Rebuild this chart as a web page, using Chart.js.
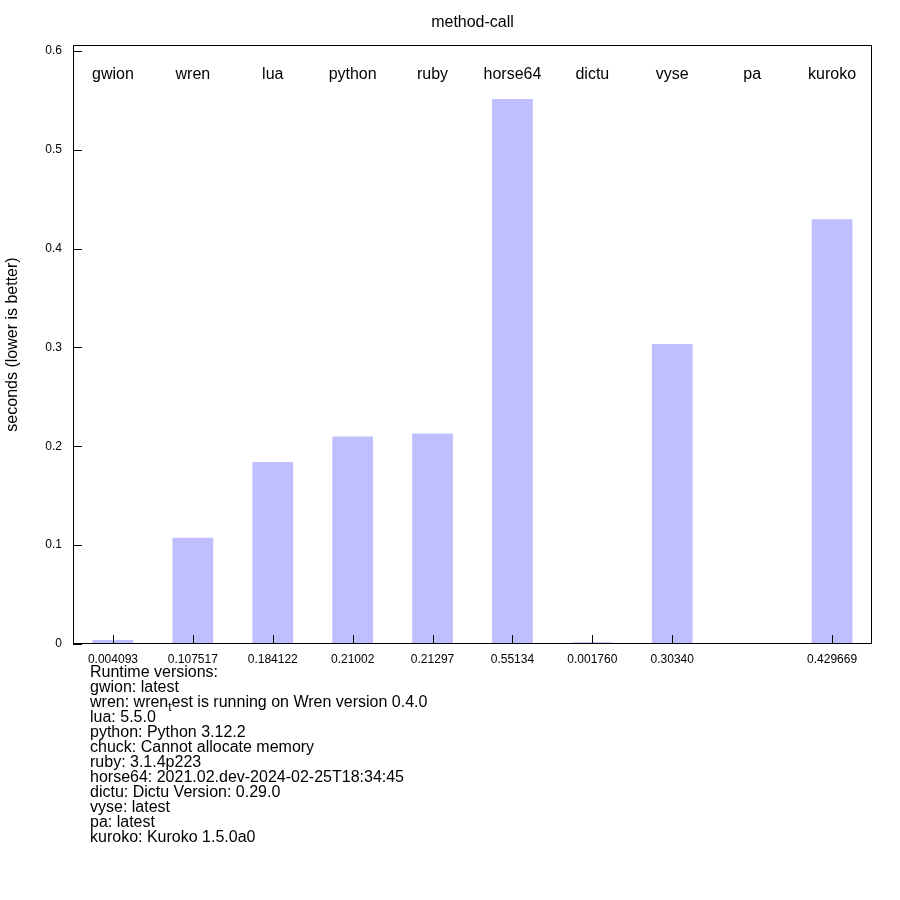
<!DOCTYPE html>
<html>
<head>
<meta charset="utf-8">
<script src="https://cdn.jsdelivr.net/npm/chart.js@4/dist/chart.umd.min.js"></script>
<style>
  html, body { margin: 0; padding: 0; background: #fff; }
  #wrap { width: 900px; height: 900px; }
</style>
</head>
<body>
<div id="wrap"><canvas id="c" width="900" height="900"></canvas></div>
<script>
// ---- data ----
const categories = ["gwion", "wren", "lua", "python", "ruby", "horse64", "dictu", "vyse", "pa", "kuroko"];
const seconds = [0.004093, 0.107517, 0.184122, 0.21002, 0.21297, 0.55134, 0.001760, 0.30340, null, 0.429669];
const valueLabels = ["0.004093", "0.107517", "0.184122", "0.21002", "0.21297", "0.55134", "0.001760", "0.30340", "", "0.429669"];
const yTickValues = [0, 0.1, 0.2, 0.3, 0.4, 0.5, 0.6];
const chartTitle = "method-call";
const yAxisTitle = "seconds (lower is better)";
const versionLines = [
  "Runtime versions:",
  "gwion: latest",
  ["wren: wren", "t", "est is running on Wren version 0.4.0"],
  "lua: 5.5.0",
  "python: Python 3.12.2",
  "chuck: Cannot allocate memory",
  "ruby: 3.1.4p223",
  "horse64: 2021.02.dev-2024-02-25T18:34:45",
  "dictu: Dictu Version: 0.29.0",
  "vyse: latest",
  "pa: latest",
  "kuroko: Kuroko 1.5.0a0"
];

const FONT = "'Liberation Sans', Arial, Helvetica, sans-serif";
Chart.defaults.font.family = FONT;
Chart.defaults.color = '#000';

const decor = {
  id: 'decor',
  afterDatasetsDraw(chart) {
    const ctx = chart.ctx;
    const a = chart.chartArea;
    const xs = chart.scales.x, ys = chart.scales.y;
    ctx.save();
    // frame
    ctx.strokeStyle = '#000';
    ctx.lineWidth = 1;
    ctx.strokeRect(Math.round(a.left) + 0.5, Math.round(a.top) + 0.5,
                   Math.round(a.right - a.left) - 1, Math.round(a.bottom - a.top) - 1);
    // inward y ticks
    ctx.beginPath();
    ys.ticks.forEach(t => {
      const y = Math.round(ys.getPixelForValue(t.value)) + 0.5;
      ctx.moveTo(a.left, y); ctx.lineTo(a.left + 9, y);
    });
    // inward x ticks (only categories with a value)
    seconds.forEach((v, i) => {
      if (v === null) return;
      const x = Math.round(xs.getPixelForValue(i)) + 0.5;
      ctx.moveTo(x, a.bottom); ctx.lineTo(x, a.bottom - 9);
    });
    ctx.stroke();
    // category names inside plot
    ctx.fillStyle = '#000';
    ctx.font = '16px ' + FONT;
    ctx.textAlign = 'center';
    ctx.textBaseline = 'alphabetic';
    categories.forEach((c, i) => {
      ctx.fillText(c, xs.getPixelForValue(i), a.top + 34);
    });
    // runtime versions text
    ctx.textAlign = 'left';
    const x0 = 90;
    let y = 677;
    versionLines.forEach(line => {
      if (Array.isArray(line)) {
        ctx.font = '16px ' + FONT;
        let x = x0;
        ctx.fillText(line[0], x, y); x += ctx.measureText(line[0]).width;
        ctx.font = '12px ' + FONT;
        ctx.fillText(line[1], x, y + 4); x += ctx.measureText(line[1]).width;
        ctx.font = '16px ' + FONT;
        ctx.fillText(line[2], x, y);
      } else {
        ctx.font = '16px ' + FONT;
        ctx.fillText(line, x0, y);
      }
      y += 15;
    });
    ctx.restore();
  }
};

new Chart(document.getElementById('c'), {
  type: 'bar',
  data: {
    labels: categories,
    datasets: [{
      data: seconds,
      backgroundColor: '#bfbfff',
      borderWidth: 0,
      barPercentage: 0.51,
      categoryPercentage: 1.0
    }]
  },
  options: {
    responsive: false,
    animation: false,
    devicePixelRatio: 1,
    layout: { padding: { left: 0, right: 28, top: 0, bottom: 0 } },
    plugins: {
      legend: { display: false },
      tooltip: { enabled: false },
      title: {
        display: true,
        text: chartTitle,
        fullSize: false,
        font: { size: 16, weight: 'normal', family: FONT },
        color: '#000',
        padding: { top: 12.5, bottom: 13.3 }
      }
    },
    scales: {
      x: {
        type: 'category',
        offset: true,
        grid: { display: false, drawTicks: false },
        border: { display: false },
        ticks: {
          autoSkip: false,
          maxRotation: 0,
          minRotation: 0,
          padding: 8,
          font: { size: 12 },
          color: '#000',
          callback: (v, i) => valueLabels[i]
        },
        afterFit: s => { s.height = 256; }
      },
      y: {
        type: 'linear',
        min: 0,
        max: 0.606,
        grid: { display: false, drawTicks: false },
        border: { display: false },
        afterBuildTicks: s => { s.ticks = yTickValues.map(v => ({ value: v })); },
        ticks: {
          padding: 11,
          font: { size: 12 },
          color: '#000',
          callback: v => String(v)
        },
        title: {
          display: true,
          text: yAxisTitle,
          font: { size: 16 },
          color: '#000',
          padding: { top: 3, bottom: 0 }
        },
        afterFit: s => { s.width = 73; }
      }
    }
  },
  plugins: [decor]
});
</script>
</body>
</html>
